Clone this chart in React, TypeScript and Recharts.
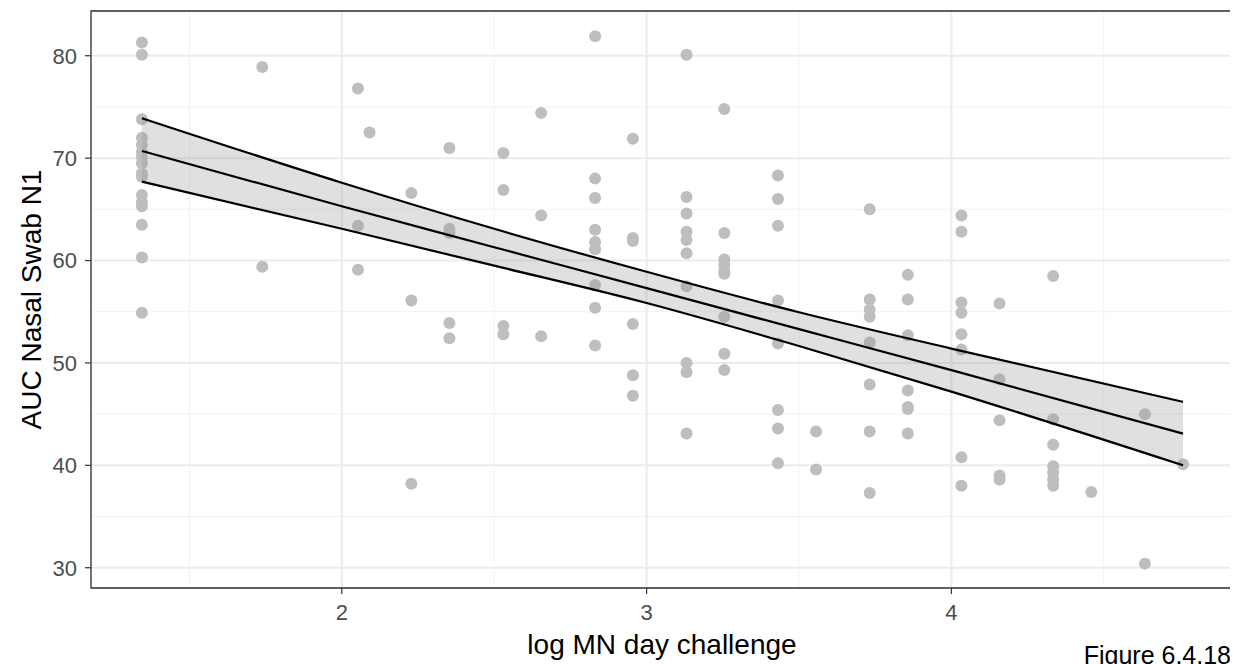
import React from 'react';
import {
  ComposedChart,
  Scatter,
  Line,
  Area,
  XAxis,
  YAxis,
  CartesianGrid,
  ReferenceArea,
} from 'recharts';

// ---- data ----
const logMN = [
  1.344, 1.739, 2.053, 2.091, 2.228, 2.353, 2.53, 2.654, 2.831, 2.955, 3.131,
  3.255, 3.431, 3.556, 3.732, 3.857, 4.033, 4.158, 4.334, 4.459, 4.635, 4.76,
];

const aucByColumn: number[][] = [
  [81.3, 80.1, 73.8, 72.0, 71.3, 70.6, 70.1, 69.5, 68.5, 68.2, 66.4, 65.7, 65.3, 63.5, 60.3, 54.9],
  [78.9, 59.4],
  [76.8, 63.4, 59.1],
  [72.5],
  [66.6, 56.1, 38.2],
  [71.0, 63.1, 62.7, 53.9, 52.4],
  [70.5, 66.9, 53.6, 52.8],
  [74.4, 64.4, 52.6],
  [81.9, 68.0, 66.1, 63.0, 61.8, 61.1, 57.6, 55.4, 51.7],
  [71.9, 62.2, 61.9, 53.8, 48.8, 46.8],
  [80.1, 66.2, 64.6, 62.8, 62.0, 60.7, 57.5, 50.0, 49.1, 43.1],
  [74.8, 62.7, 60.1, 59.6, 59.0, 58.7, 54.5, 50.9, 49.3],
  [68.3, 66.0, 63.4, 56.1, 51.9, 45.4, 43.6, 40.2],
  [43.3, 39.6],
  [65.0, 56.2, 55.2, 54.5, 52.0, 47.9, 43.3, 37.3],
  [58.6, 56.2, 52.7, 47.3, 45.7, 45.5, 43.1],
  [64.4, 62.8, 55.9, 54.9, 52.8, 51.3, 40.8, 38.0],
  [55.8, 48.4, 44.4, 39.0, 38.6],
  [58.5, 44.5, 42.0, 39.9, 39.3, 38.6, 38.0],
  [37.4],
  [45.0, 30.4],
  [40.1],
];

// fitted line and confidence band
const fitX = [1.344, 2.0, 2.5, 3.0, 3.5, 4.0, 4.76];
const fitY = [70.7, 65.3, 61.3, 57.3, 53.3, 49.3, 43.1];
const fitLower = [67.7, 63.1, 59.5, 55.85, 51.65, 47.2, 40.0];
const fitUpper = [73.9, 67.6, 63.1, 58.9, 54.95, 51.4, 46.2];

const xMajorTicks = [2, 3, 4];
const xMinorTicks = [1.5, 2.5, 3.5, 4.5];
const yMajorTicks = [30, 40, 50, 60, 70, 80];
const yMinorTicks = [35, 45, 55, 65, 75];

const xDomain: [number, number] = [1.177, 4.924];
const yDomain: [number, number] = [28.02, 84.37];

const points = logMN.flatMap((x, i) => aucByColumn[i].map((y) => ({ x, y })));
const band = fitX.map((x, i) => ({
  x,
  fit: fitY[i],
  lower: fitLower[i],
  upper: fitUpper[i],
  range: [fitLower[i], fitUpper[i]],
}));

const FONT = 'Liberation Sans, Arial, Helvetica, sans-serif';
const TICK_FS = 22;
const TITLE_FS = 28;
const CAPTION_FS = 25;

const Dot = (props: any) => (
  <circle cx={props.cx} cy={props.cy} r={6} fill="#bebebe" />
);

const XTitle = (props: any) => {
  const vb = props.viewBox || {};
  return (
    <g>
      <text
        x={vb.x + vb.width / 2}
        y={vb.y + 66}
        textAnchor="middle"
        fontSize={TITLE_FS}
        fontFamily={FONT}
        fill="#000"
      >
        log MN day challenge
      </text>
      <text
        x={vb.x + vb.width - 2}
        y={vb.y + 76}
        textAnchor="end"
        fontSize={CAPTION_FS}
        fontFamily={FONT}
        fill="#000"
      >
        Figure 6.4.18
      </text>
    </g>
  );
};

const YTitle = (props: any) => {
  const vb = props.viewBox || {};
  const cx = 33;
  const cy = vb.y + vb.height / 2;
  return (
    <text
      x={cx}
      y={cy}
      transform={`rotate(-90, ${cx}, ${cy})`}
      textAnchor="middle"
      fontSize={TITLE_FS}
      fontFamily={FONT}
      fill="#000"
    >
      AUC Nasal Swab N1
    </text>
  );
};

export default function App() {
  return (
    <div style={{ width: 1230, height: 656 }}>
      <ComposedChart
        width={1230}
        height={656}
        margin={{ top: 3, right: 5, bottom: 0, left: 0 }}
      >
        <XAxis
          xAxisId="minor"
          type="number"
          dataKey="x"
          domain={xDomain}
          ticks={xMinorTicks}
          allowDataOverflow
          hide
        />
        <YAxis
          yAxisId="minor"
          type="number"
          domain={yDomain}
          ticks={yMinorTicks}
          allowDataOverflow
          hide
        />
        <CartesianGrid
          xAxisId="minor"
          yAxisId="minor"
          stroke="#f2f2f2"
          strokeWidth={1}
        />
        <CartesianGrid stroke="#ebebeb" strokeWidth={2} />
        <XAxis
          type="number"
          dataKey="x"
          domain={xDomain}
          ticks={xMajorTicks}
          allowDataOverflow
          axisLine={false}
          tickSize={6}
          tickMargin={10}
          tickLine={{ stroke: '#333333', strokeWidth: 1.2 }}
          tick={{ fill: '#4d4d4d', fontSize: TICK_FS, fontFamily: FONT }}
          height={76}
          label={<XTitle />}
        />
        <YAxis
          type="number"
          domain={yDomain}
          ticks={yMajorTicks}
          allowDataOverflow
          axisLine={false}
          tickSize={6}
          tickMargin={8}
          tickLine={{ stroke: '#333333', strokeWidth: 1.2 }}
          tick={{ fill: '#4d4d4d', fontSize: TICK_FS, fontFamily: FONT }}
          width={83}
          label={<YTitle />}
        />
        <Scatter
          data={points}
          dataKey="y"
          shape={<Dot />}
          isAnimationActive={false}
          zIndex={300}
        />
        <Area
          data={band}
          dataKey="range"
          type="monotone"
          stroke="none"
          fill="#999999"
          fillOpacity={0.3}
          isAnimationActive={false}
          zIndex={700}
        />
        <Line
          data={band}
          dataKey="upper"
          type="monotone"
          stroke="#000"
          strokeWidth={2.2}
          dot={false}
          isAnimationActive={false}
          zIndex={800}
        />
        <Line
          data={band}
          dataKey="fit"
          type="monotone"
          stroke="#000"
          strokeWidth={2.2}
          dot={false}
          isAnimationActive={false}
          zIndex={800}
        />
        <Line
          data={band}
          dataKey="lower"
          type="monotone"
          stroke="#000"
          strokeWidth={2.2}
          dot={false}
          isAnimationActive={false}
          zIndex={800}
        />
        <ReferenceArea
          x1={xDomain[0]}
          x2={xDomain[1]}
          y1={yDomain[0]}
          y2={yDomain[1]}
          fill="none"
          stroke="#333333"
          strokeWidth={1.3}
          ifOverflow="visible"
          zIndex={900}
        />
      </ComposedChart>
    </div>
  );
}
